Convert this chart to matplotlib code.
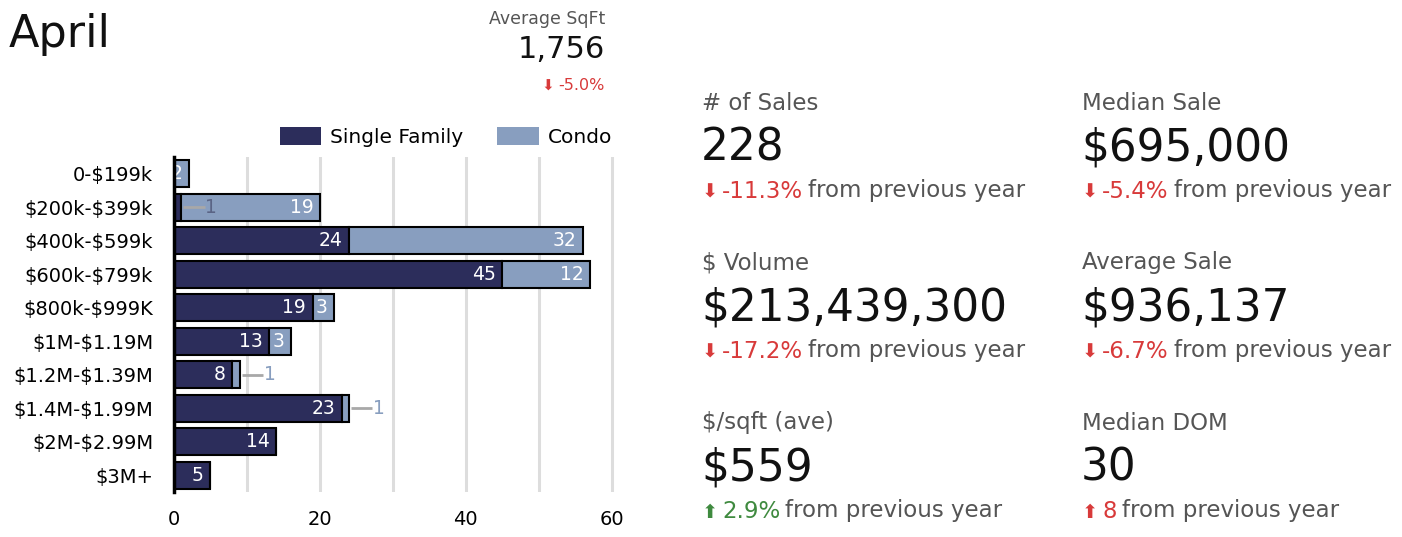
import matplotlib
matplotlib.use("Agg")
import matplotlib.pyplot as plt
from matplotlib.patches import Patch

plt.rcParams['font.family'] = ['DejaVu Sans']
plt.rcParams['text.parse_math'] = False

# chart data
price_ranges = ['0-$199k', '$200k-$399k', '$400k-$599k', '$600k-$799k', '$800k-$999K',
                '$1M-$1.19M', '$1.2M-$1.39M', '$1.4M-$1.99M', '$2M-$2.99M', '$3M+']
single_family = [0, 1, 24, 45, 19, 13, 8, 23, 14, 5]
condo = [2, 19, 32, 12, 3, 3, 1, 1, 0, 0]

# stat panel data
stat_labels = ['# of Sales', 'Median Sale', '$ Volume', 'Average Sale', '$/sqft (ave)', 'Median DOM']
stat_values = ['228', '$695,000', '$213,439,300', '$936,137', '$559', '30']
stat_changes = ['-11.3%', '-5.4%', '-17.2%', '-6.7%', '2.9%', '8']
stat_dirs = ['down', 'down', 'down', 'down', 'up', 'up']
stat_good = [False, False, False, False, True, False]

sqft_label = 'Average SqFt'
sqft_value = '1,756'
sqft_change = '-5.0%'

SF_COLOR = '#2c2d5b'
CONDO_COLOR = '#889ebf'
RED = '#d83a3a'
GREEN = '#3f8a3f'
GRAY = '#555555'

W, H = 1402, 537
fig = plt.figure(figsize=(W / 100, H / 100), dpi=100)


def fx(x):
    return x / W


def fy(y):
    return 1 - y / H


ax = fig.add_axes([fx(174), fy(492), fx(619) - fx(174), fy(157) - fy(492)])
ypos = list(range(len(price_ranges)))

ax.barh(ypos, single_family, height=0.8, color=SF_COLOR, edgecolor='black', linewidth=1.5, zorder=3)
ax.barh(ypos, condo, left=single_family, height=0.8, color=CONDO_COLOR, edgecolor='black',
        linewidth=1.5, zorder=3)

for i in ypos:
    sf, c = single_family[i], condo[i]
    segs = [(0, sf, '#5a6485'), (sf, c, CONDO_COLOR)]
    for start, val, out_color in segs:
        if val == 0:
            continue
        end = start + val
        if val == 1:
            ax.plot([end + 0.3, end + 3.2], [i, i], color='#a8a8a8', lw=2, zorder=4,
                    solid_capstyle='butt')
            ax.text(end + 3.3, i, str(val), color=out_color, fontsize=13.5, va='center',
                    ha='left', zorder=5)
        else:
            ax.text(end - 0.9, i, str(val), color='white', fontsize=13.5, va='center',
                    ha='right', zorder=5, clip_on=True)

ax.set_xlim(0, 61)
ax.set_ylim(len(price_ranges) - 0.5, -0.5)
ax.set_yticks(ypos)
ax.set_yticklabels(price_ranges, fontsize=14)
ax.set_xticks([0, 20, 40, 60])
ax.set_xticks([10, 30, 50], minor=True)
ax.tick_params(axis='both', length=0, which='both')
ax.tick_params(axis='y', pad=15)
ax.tick_params(axis='x', pad=13, labelsize=14)
ax.grid(axis='x', which='both', color='#dddddd', lw=2.2, zorder=0)
for s in ['top', 'right', 'bottom']:
    ax.spines[s].set_visible(False)
ax.spines['left'].set_linewidth(2.5)
ax.spines['left'].set_zorder(6)

handles = [Patch(facecolor=SF_COLOR, label='Single Family'), Patch(facecolor=CONDO_COLOR, label='Condo')]
fig.legend(handles=handles, loc='center', bbox_to_anchor=(fx(446), fy(137)), ncol=2, frameon=False,
           fontsize=14.5, handlelength=2.05, handleheight=1.0, handletextpad=0.45, columnspacing=1.7)

# header
fig.text(fx(9), fy(47), 'April', fontsize=32, color='#111111', ha='left', va='baseline')
fig.text(fx(605), fy(19), sqft_label, fontsize=12.5, color=GRAY, ha='right', va='center')
fig.text(fx(605), fy(50), sqft_value, fontsize=22, color='#111111', ha='right', va='center')
fig.text(fx(605), fy(85), sqft_change, fontsize=11.5, color=RED, ha='right', va='center')
fig.text(fx(554), fy(86), '\u2b07', fontsize=11, color=RED, ha='right', va='center')

# stats panel
col_x = [702, 1082]
row_y = [103, 263, 423]
renderer = fig.canvas.get_renderer()
for k, label in enumerate(stat_labels):
    x = col_x[k % 2]
    y = row_y[k // 2]
    fig.text(fx(x), fy(y), label, fontsize=16.5, color=GRAY, ha='left', va='center')
    fig.text(fx(x - 1), fy(y + 45), stat_values[k], fontsize=31.5, color='#111111', ha='left', va='center')
    ccol = GREEN if stat_good[k] else RED
    arrow = '\u2b07' if stat_dirs[k] == 'down' else '\u2b06'
    fig.text(fx(x + 8), fy(y + 89), arrow, fontsize=14, color=ccol, ha='center', va='center')
    t = fig.text(fx(x + 20), fy(y + 88), stat_changes[k], fontsize=16.5, color=ccol, ha='left',
                 va='center')
    bb = t.get_window_extent(renderer)
    fig.text(fx(bb.x1 + 5), fy(y + 88), 'from previous year', fontsize=16.5, color=GRAY,
             ha='left', va='center')

fig.savefig('out.png', dpi=100)
